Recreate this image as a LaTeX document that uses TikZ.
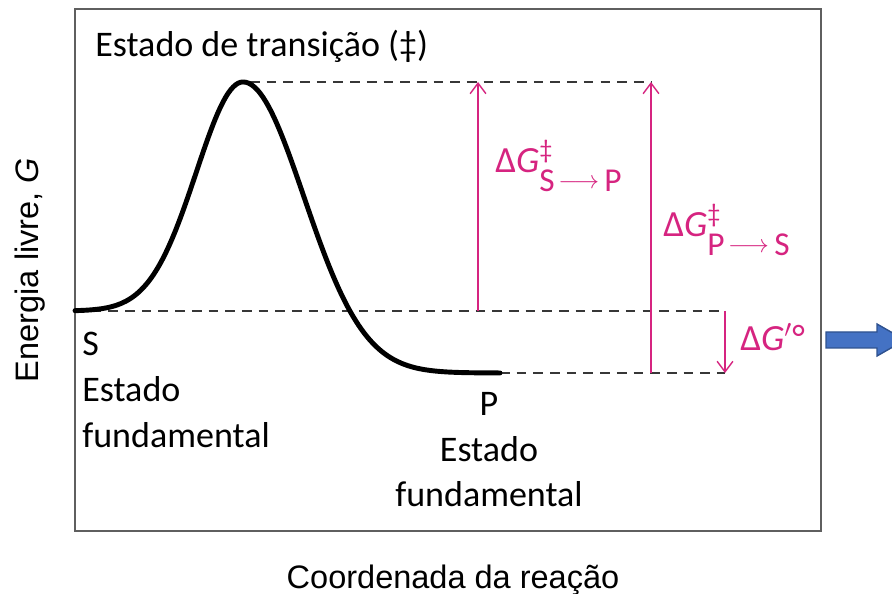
\documentclass[tikz,border=0pt]{standalone}
\usepackage{fontspec}
\setmainfont{Carlito}
\newfontfamily\axisfont{Liberation Sans}
\usetikzlibrary{arrows.meta}
\definecolor{magentaG}{RGB}{214,36,128}
\definecolor{frameGray}{RGB}{95,95,95}
\definecolor{dashGray}{RGB}{55,55,55}
\definecolor{blueArrow}{RGB}{68,114,196}
\definecolor{blueEdge}{RGB}{47,82,143}
\newcommand{\dgsub}[2]{\rlap{\raisebox{8pt}{\fontsize{15}{15}\selectfont ‡}}%
  \raisebox{-10.5pt}{\fontsize{19}{19}\selectfont #1\hspace{2pt}%
  \raisebox{1.5pt}{\fontsize{14}{14}\selectfont$\longrightarrow$}\hspace{3pt}#2}}

\begin{document}
\begin{tikzpicture}
    [
      x = 0.02cm, y = -0.02cm,
      txt/.style = {font=\fontsize{20.5}{26}\selectfont, inner sep=0pt},
      axislab/.style = {font=\axisfont\fontsize{18.5}{22}\selectfont, inner sep=0pt},
      dashline/.style = {dashGray, line width=0.75pt, dash pattern=on 5.5pt off 4pt},
      dgarrow/.style = {magentaG, line width=0.8pt, -{Straight Barb[length=6pt, width=9pt]}},
      dglabel/.style = {magentaG, font=\fontsize{21}{25}\selectfont, inner sep=0pt, anchor=base west},
    ]

    \useasboundingbox (0,0) rectangle (892,594);
    \fill[white] (0,0) rectangle (892,594);

    \draw[frameGray, line width=1.1pt] (75,9) rectangle (821,531);

    \coordinate (peak) at (243,82);
    \coordinate (sLeft) at (75,311);
    \coordinate (sRight) at (725,311);
    \coordinate (pLeft) at (500,373);
    \coordinate (pRight) at (725,373);
    \coordinate (topL) at (250,82);
    \coordinate (topR) at (651,82);
    \coordinate (a1b) at (478,311);
    \coordinate (a1t) at (478,82);
    \coordinate (a2b) at (651,373);
    \coordinate (a2t) at (651,82);

    \draw[dashline] (topL) -- (topR);
    \draw[dashline] (sLeft) -- (sRight);
    \draw[dashline] (pLeft) -- (pRight);

    \draw[line width=2.8pt, line cap=round]
      plot[domain=75:243, samples=70, smooth] (\x, {311-229*exp(-((\x-243)/66)^2)})
      -- plot[domain=243:500, samples=90, smooth] (\x, {373-291*exp(-((\x-243)/86)^2)});

    \draw[dgarrow] (a1b) -- (a1t);
    \draw[dgarrow] (a2b) -- (a2t);
    \draw[dgarrow] (sRight) -- (pRight);

    \node[dglabel] (dGsp) at (495,173) {Δ\textit{G}\dgsub{S}{P}};
    \node[dglabel] (dGps) at (663,237) {Δ\textit{G}\dgsub{P}{S}};
    \node[dglabel] (dGzero) at (740,351) {Δ\textit{G}$'$°};

    \node[txt, anchor=base west] (title) at (95,57) {Estado de transição (‡)};
    \node[txt, align=left, anchor=north west] (sLab) at (82,332)
      {S\\Estado\\fundamental};
    \node[txt, align=center, anchor=north] (pLab) at (489,392)
      {P\\Estado\\fundamental};

    \node[axislab, anchor=base] (xLab) at (453,588) {Coordenada da reação};
    \node[axislab, rotate=90, anchor=base] (yLab) at (38,270) {Energia livre, \textit{G}};

    \filldraw[fill=blueArrow, draw=blueEdge, line width=0.8pt]
      (826,332) -- (877,332) -- (877,324) -- (905,340) -- (877,356)
      -- (877,348) -- (826,348) -- cycle;

  \end{tikzpicture}
\end{document}
